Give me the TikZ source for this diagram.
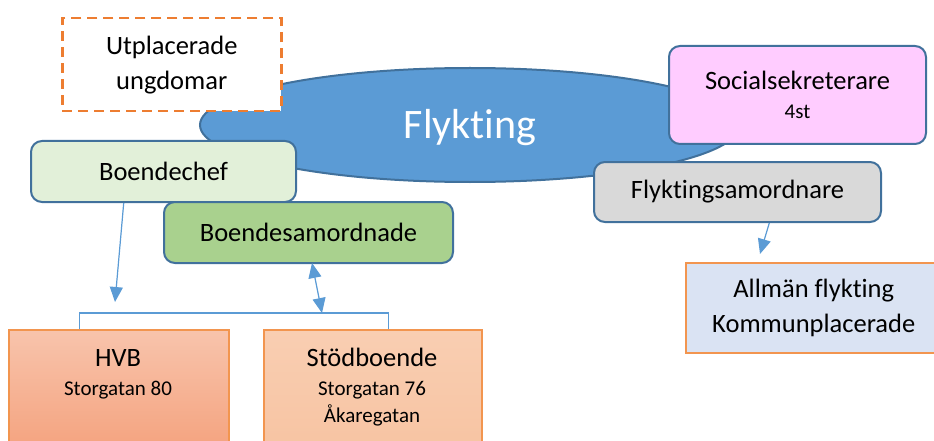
\documentclass[tikz,border=0pt]{standalone}
\usepackage{fontspec}
\setmainfont{Carlito}[Ligatures=NoCommon]
\usetikzlibrary{arrows.meta,calc,shapes.geometric}
\definecolor{bord}{HTML}{41719C}
\definecolor{ellfill}{HTML}{5B9BD5}
\definecolor{pinkf}{HTML}{FFCCFF}
\definecolor{greyf}{HTML}{D9D9D9}
\definecolor{lgreen}{HTML}{E2F0D9}
\definecolor{mgreen}{HTML}{A9D18E}
\definecolor{lblue}{HTML}{DAE3F3}
\definecolor{orng}{HTML}{ED7D31}
\definecolor{orngb}{HTML}{F2954F}
\definecolor{hvbtop}{HTML}{F8C4AC}
\definecolor{hvbbot}{HTML}{F4A07B}
\definecolor{stodtop}{HTML}{F9CEB2}
\definecolor{stodbot}{HTML}{F7C3A1}
\definecolor{conn}{HTML}{5B9BD5}
\tikzset{
  x=1pt,y=-1pt,
  mainfont/.style={font=\fontsize{26.5}{35}\selectfont},
  rbox/.style={draw=bord,line width=2pt,rounded corners=11pt,inner sep=0pt,align=center,mainfont,anchor=north west},
  sbox/.style={draw=orngb,line width=1.5pt,inner sep=0pt,align=center,mainfont,anchor=north west},
  conline/.style={draw=conn,line width=1.2pt},
  tip/.style={-{Triangle[length=15pt,width=13pt]}},
  dtip/.style={{Triangle[length=15pt,width=13pt]}-{Triangle[length=15pt,width=13pt]}},
}
\newcommand{\smalltxt}{\fontsize{21}{25}\selectfont}
\begin{document}
\begin{tikzpicture}
\useasboundingbox (0,0) rectangle (934,441);
\clip (0,0) rectangle (934,441);
% central ellipse
\node[ellipse,draw=bord,line width=2pt,fill=ellfill,minimum width=540pt,minimum height=114pt,inner sep=0pt] (flyk) at (470,125) {};
\node[text=white,font=\fontsize{42}{50}\selectfont,anchor=base] (flyktxt) at (470,139) {Flykting};
% dashed box
\node[draw=orng,fill=white,line width=2.5pt,dash pattern=on 10pt off 6pt,inner sep=0pt,minimum width=219pt,minimum height=93pt,align=center,mainfont,anchor=north west] (utpl) at (61,17) {Utplacerade\\ungdomar};
% Socialsekreterare
\node[rbox,fill=pinkf,minimum width=257pt,minimum height=98pt] (soc) at (668,45) {Socialsekreterare\\[-6pt]{\smalltxt 4st}};
% Flyktingsamordnare
\node[rbox,fill=greyf,minimum width=287pt,minimum height=60pt] (fsam) at (593,161) {Flyktingsamordnare};
% Boendechef
\node[rbox,fill=lgreen,minimum width=265pt,minimum height=61pt] (chef) at (30,140) {Boendechef};
% Boendesamordnade
\node[rbox,fill=mgreen,minimum width=289pt,minimum height=61pt] (bsam) at (163,201) {Boendesamordnade};
% Allman flykting
\node[sbox,fill=lblue,minimum width=256pt,minimum height=90pt] (allm) at (685,262) {Allmän flykting\\Kommunplacerade};
% HVB and Stodboende boxes
\node[sbox,top color=hvbtop,bottom color=hvbbot,minimum width=220pt,minimum height=130pt] (hvb) at (8,329) {};
\node[sbox,top color=stodtop,bottom color=stodbot,minimum width=218pt,minimum height=130pt] (stod) at (263,329) {};
\node[mainfont,anchor=base,inner sep=0pt] (hvbt) at (118,366) {HVB};
\node[font=\smalltxt,anchor=base,inner sep=0pt] (hvba) at (118,395) {Storgatan 80};
\node[mainfont,anchor=base,inner sep=0pt] (stodt) at (372,366) {Stödboende};
\node[font=\smalltxt,anchor=base,inner sep=0pt] (stoda) at (372,395) {Storgatan 76};
\node[font=\smalltxt,anchor=base,inner sep=0pt] (stodb) at (372,422) {Åkaregatan};
% bracket
\coordinate (hvbtop) at ($(hvb.north west)!0.323!(hvb.north east)$);
\coordinate (stodtop) at ($(stod.north west)!0.573!(stod.north east)$);
\draw[conline] (hvbtop) -- ++(0,-16) coordinate (brl) -| (stodtop);
% arrows
\coordinate (chefout) at ($(chef.south west)!0.351!(chef.south east)$);
\coordinate (cheftip) at (115,302);
\draw[conline,tip,fill=conn] (chefout) -- (cheftip);
\coordinate (bsamout) at (312,263);
\coordinate (bsamtip) at (322,313);
\draw[conline,dtip,fill=conn] (bsamout) -- (bsamtip);
\coordinate (fsamout) at ($(fsam.south west)!0.61!(fsam.south east)$);
\coordinate (fsamtip) at (760,254);
\draw[conline,tip,fill=conn] (fsamout) -- (fsamtip);
\end{tikzpicture}
\end{document}
